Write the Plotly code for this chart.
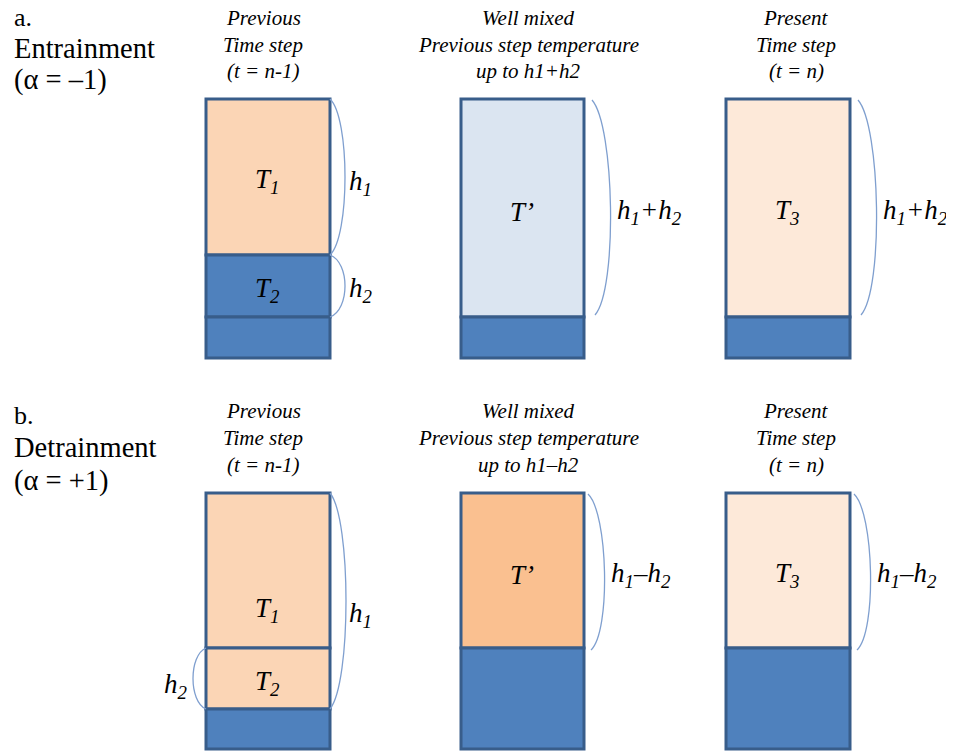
import plotly.graph_objects as go

# ---------------- data ----------------
panel_letters = ["a.", "b."]
panel_names = ["Entrainment", "Detrainment"]
alpha_labels = ["(α = –1)", "(α = +1)"]

headers_a = [["Previous", "Time step", "(t = n-1)"],
             ["Well mixed", "Previous step temperature", "up to h1+h2"],
             ["Present", "Time step", "(t = n)"]]
headers_b = [["Previous", "Time step", "(t = n-1)"],
             ["Well mixed", "Previous step temperature", "up to h1–h2"],
             ["Present", "Time step", "(t = n)"]]

# layer boundaries (depth, top -> bottom) for each column
bounds_a = [[99, 255, 317, 358], [99, 317, 358], [99, 317, 358]]
bounds_b = [[493, 648, 709, 749], [493, 648, 749], [493, 648, 749]]

# layer labels
labels_a = [["T<sub>1</sub>", "T<sub>2</sub>", ""], ["T’", ""], ["T<sub>3</sub>", ""]]
labels_b = [["T<sub>1</sub>", "T<sub>2</sub>", ""], ["T’", ""], ["T<sub>3</sub>", ""]]

# layer fills
C_PEACH = "#FBD5B5"
C_BLUE = "#4F81BD"
C_LBLUE = "#DBE5F1"
C_LPEACH = "#FDE9D9"
C_ORANGE = "#FAC090"
fills_a = [[C_PEACH, C_BLUE, C_BLUE], [C_LBLUE, C_BLUE], [C_LPEACH, C_BLUE]]
fills_b = [[C_PEACH, C_PEACH, C_BLUE], [C_ORANGE, C_BLUE], [C_LPEACH, C_BLUE]]

# thickness labels
h_a = [["h<sub>1</sub>", "h<sub>2</sub>"], ["h<sub>1</sub>+h<sub>2</sub>"], ["h<sub>1</sub>+h<sub>2</sub>"]]
h_b = [["h<sub>1</sub>", "h<sub>2</sub>"], ["h<sub>1</sub>–h<sub>2</sub>"], ["h<sub>1</sub>–h<sub>2</sub>"]]

# ---------------- layout ----------------
W, H = 954, 751
OFF = 8  # page body margin
col_x = [(206, 330), (461, 584), (726, 850)]
header_cx = [263, 528, 796]
BORDER = "#385D8A"
BRACE = "#7F9FCF"
SERIF = "Liberation Serif"
DY = 4  # label baseline nudge

fig = go.Figure()
shapes = []
annots = []


def txt(x, y, s, size, italic=False, anchor="center"):
    if italic:
        s = "<i>" + s + "</i>"
    annots.append(dict(x=x, y=y, xref="x", yref="y", text=s, showarrow=False,
                       xanchor=anchor, yanchor="middle",
                       font=dict(family=SERIF, size=size, color="black")))


def brace(x0, y0, x1, y1, bulge):
    h = y1 - y0
    d = bulge / 0.75
    path = (f"M {x0},{y0} C {x0 + d},{y0 + 0.12 * h} {x1 + d},{y1 - 0.12 * h} {x1},{y1}")
    shapes.append(dict(type="path", path=path, xref="x", yref="y",
                       line=dict(color=BRACE, width=1.3)))


panels = [
    dict(letter=panel_letters[0], name=panel_names[0], alpha=alpha_labels[0],
         headers=headers_a, bounds=bounds_a, labels=labels_a, fills=fills_a, hl=h_a,
         ytext=[17, 48, 80], yhead=[18, 45, 71]),
    dict(letter=panel_letters[1], name=panel_names[1], alpha=alpha_labels[1],
         headers=headers_b, bounds=bounds_b, labels=labels_b, fills=fills_b, hl=h_b,
         ytext=[415, 447, 481], yhead=[411, 438, 465]),
]

for pi, p in enumerate(panels):
    txt(12, p["ytext"][0], p["letter"], 26, anchor="left")
    txt(12, p["ytext"][1], p["name"], 28.5, anchor="left")
    txt(12, p["ytext"][2], p["alpha"], 28.5, anchor="left")
    for ci in range(3):
        for li, line in enumerate(p["headers"][ci]):
            txt(header_cx[ci], p["yhead"][li], line, 21, italic=True)
        x0, x1 = col_x[ci]
        b = p["bounds"][ci]
        for li in range(len(b) - 1):
            shapes.append(dict(type="rect", xref="x", yref="y", x0=x0, x1=x1,
                               y0=b[li], y1=b[li + 1], fillcolor=p["fills"][ci][li],
                               line=dict(color=BORDER, width=3), layer="below"))
            lab = p["labels"][ci][li]
            if lab:
                if ci == 0 and pi == 1 and li == 0:
                    ly = b[li + 1] - 38
                else:
                    ly = (b[li] + b[li + 1]) / 2 + DY
                txt((x0 + x1) / 2 - 1, ly, lab, 27, italic=True)
        # braces and thickness labels
        if ci == 0:
            if pi == 0:
                brace(x1, b[0], x1, b[1], 15)
                txt(347, (b[0] + b[1]) / 2 + DY + 2, p["hl"][0][0], 27, italic=True, anchor="left")
                brace(x1, b[1], x1, b[2], 15)
                txt(347, (b[1] + b[2]) / 2 + DY, p["hl"][0][1], 27, italic=True, anchor="left")
            else:
                brace(x1, b[0], x1, b[2], 16)
                txt(347, 615, p["hl"][0][0], 27, italic=True, anchor="left")
                brace(x0, b[1], x0, b[2], -13)
                txt(190, (b[1] + b[2]) / 2 + DY + 3, p["hl"][0][1], 27, italic=True, anchor="right")
        else:
            top, bot = b[0], b[-2]
            if pi == 0:
                brace(x1 + 8, top + 1, x1 + 11, bot - 2, 17)
                txt(x1 + 31, (top + bot) / 2 + DY, p["hl"][ci][0], 27, italic=True, anchor="left")
            else:
                brace(x1 + 4, top + 1, x1 + 7, bot + 2, 15)
                txt(x1 + 25, (top + bot) / 2 + DY, p["hl"][ci][0], 27, italic=True, anchor="left")

fig.update_layout(
    width=W - OFF, height=H - OFF, margin=dict(l=0, r=0, t=0, b=0),
    paper_bgcolor="white", plot_bgcolor="white",
    font=dict(family=SERIF, color="black"),
    xaxis=dict(range=[OFF, W], visible=False, fixedrange=True),
    yaxis=dict(range=[H, OFF], visible=False, fixedrange=True),
    shapes=shapes, annotations=annots, showlegend=False,
)
fig.write_html("out.html")
